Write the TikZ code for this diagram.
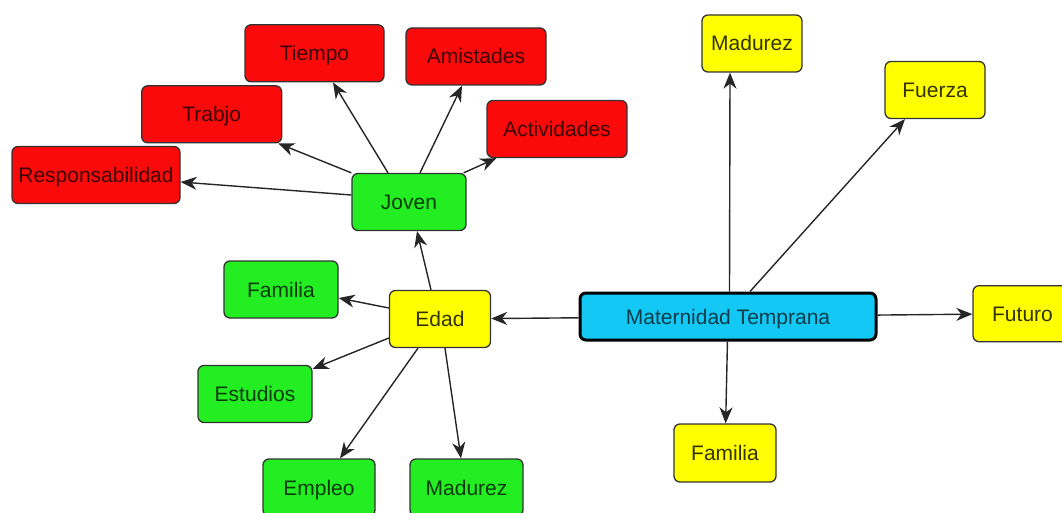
\documentclass[tikz,border=0pt]{standalone}
\usepackage{fontspec}
\setmainfont{Liberation Sans}
\usetikzlibrary{arrows.meta}

\definecolor{rojo}{RGB}{250,10,10}
\definecolor{verde}{RGB}{34,238,34}
\definecolor{amarillo}{RGB}{255,255,0}
\definecolor{celeste}{RGB}{20,200,245}

\begin{document}
\begin{tikzpicture}[
    x=1pt, y=-1pt,
    concepto/.style={
        draw=black!80, line width=1.3pt, rounded corners=6pt,
        inner sep=0pt, minimum height=57pt,
        text height=15pt, text depth=0pt,
        font=\fontsize{21}{24}\selectfont
    },
    rojob/.style={concepto, fill=rojo, text=rojo!25!black},
    verdeb/.style={concepto, fill=verde, text=verde!25!black},
    amarillob/.style={concepto, fill=amarillo, text=amarillo!20!black},
    central/.style={concepto, fill=celeste, text=celeste!30!black,
        draw=black, line width=3pt, minimum height=47pt},
    flecha/.style={-{Stealth[length=16pt, width=13pt, inset=5pt]}, line width=1.4pt, black!85}
]

\useasboundingbox (0,0) rectangle (1062,513);

% Concepto central
\node[central, minimum width=296pt] (mat) at (728,316.5) {Maternidad Temprana};

% Rama derecha (amarillo)
\node[amarillob, minimum width=100pt] (madurezb) at (752,43.5) {Madurez};
\node[amarillob, minimum width=100pt] (fuerza) at (935,90) {Fuerza};
\node[amarillob, minimum width=99pt, minimum height=56pt] (futuro) at (1022.5,313.7) {Futuro};
\node[amarillob, minimum width=102pt, minimum height=58pt] (familiab) at (725,453) {Familia};

% Edad y sus hijos (verde)
\node[amarillob, minimum width=101pt] (edad) at (440,319) {Edad};
\node[verdeb, minimum width=114pt] (joven) at (409,202) {Joven};
\node[verdeb, minimum width=114pt] (familiag) at (281,289.5) {Familia};
\node[verdeb, minimum width=114pt] (estudios) at (255,394) {Estudios};
\node[verdeb, minimum width=112pt] (empleo) at (319,487.5) {Empleo};
\node[verdeb, minimum width=113pt] (madurezg) at (466.5,487.5) {Madurez};

% Joven y sus hijos (rojo)
\node[rojob, minimum width=139pt] (tiempo) at (314.5,53.3) {Tiempo};
\node[rojob, minimum width=140pt] (amistades) at (476,56.5) {Amistades};
\node[rojob, minimum width=140pt] (trabjo) at (211.7,114.3) {Trabjo};
\node[rojob, minimum width=140pt] (actividades) at (557,129) {Actividades};
\node[rojob, minimum width=168pt] (resp) at (96,175) {Responsabilidad};

% Conexiones desde el concepto central
\draw[flecha] (mat) -- (edad);
\draw[flecha] (mat) -- (futuro);
\draw[flecha] (mat) -- (familiab);
\draw[flecha] ([xshift=1.5pt]mat.north) -- ([xshift=-22pt]madurezb.south);
\draw[flecha] ([xshift=22pt]mat.north) -- ([xshift=-30pt]fuerza.south);

% Conexiones desde Edad
\draw[flecha] ([xshift=-9pt]edad.north) -- ([xshift=8pt]joven.south);
\draw[flecha] ([yshift=11pt]edad.west) -- ([yshift=-8.5pt]familiag.east);
\draw[flecha] ([yshift=-19pt]edad.west) -- ([yshift=-4pt]estudios.north east);
\draw[flecha] ([xshift=-22pt]edad.south) -- ([xshift=21pt]empleo.north);
\draw[flecha] ([xshift=5pt]edad.south) -- ([xshift=-5.5pt]madurezg.north);

% Conexiones desde Joven
\draw[flecha] ([yshift=7pt]joven.west) -- ([yshift=-7pt]resp.east);
\draw[flecha] (joven.north west) -- ([xshift=-4pt]trabjo.south east);
\draw[flecha] ([xshift=-21pt]joven.north) -- ([xshift=18.5pt]tiempo.south);
\draw[flecha] ([xshift=11pt]joven.north) -- ([xshift=-14pt]amistades.south);
\draw[flecha] ([xshift=-3pt]joven.north east) -- ([xshift=10pt]actividades.south west);

\end{tikzpicture}
\end{document}
